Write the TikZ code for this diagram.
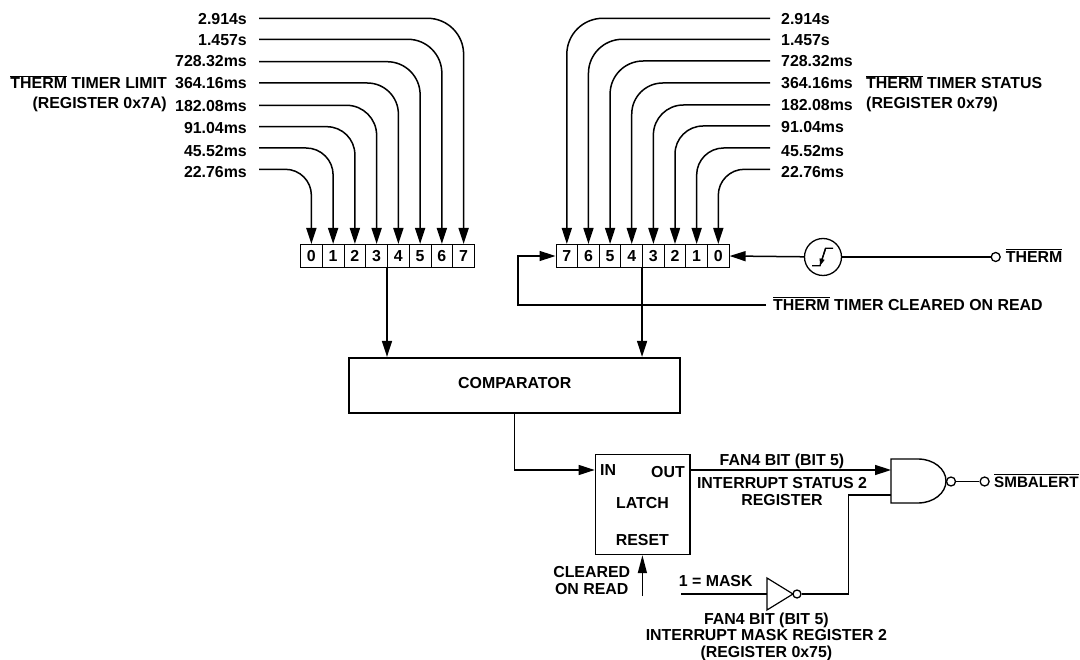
\documentclass[tikz,border=0pt]{standalone}
\usepackage{fontspec}
\setmainfont{Liberation Sans}
\usetikzlibrary{arrows.meta}
\newcommand\ovl[1]{\leavevmode\vbox{\hrule height 1pt\kern 1.3pt\hbox{#1}}}
\tikzset{
  x=1pt,y=-1pt,
  wire/.style={draw=black,line width=1.5pt},
  tip/.style={-{Triangle[length=16pt,width=10pt]}},
  arr/.style={wire,tip},
  bend/.style={arr,rounded corners=#1pt},
  txt/.style={font=\bfseries\fontsize{15.9}{16}\selectfont,inner sep=0pt,align=center,text=black},
  tx/.style={txt,text height=11.4pt,text depth=0pt},
  llab/.style={tx,anchor=east},
  rlab/.style={tx,anchor=west},
  cell/.style={draw=black,line width=1pt,tx,minimum height=23pt,anchor=west},
  lcell/.style={cell,minimum width=21.75pt},
  rcell/.style={cell,minimum width=21.64pt},
  box/.style={draw=black,line width=1.4pt,inner sep=0pt},
  bub/.style={circle,draw=black,line width=1.3pt,fill=white,inner sep=0pt,minimum size=#1pt},
}
\begin{document}
\begin{tikzpicture}
\useasboundingbox (0,0) rectangle (1080,660);
% labels: number/text/label y/line y
\foreach \n/\t/\y/\ly in {0/22.76ms/171.7/169.3,1/45.52ms/150.7/148,2/91.04ms/127.7/126.7,3/182.08ms/105.7/105.3,4/364.16ms/82.7/83,5/728.32ms/61/61.7,6/1.457s/40/39.3,7/2.914s/19/18.3}{
  \node[llab] (L\n) at (247,\y) {\t};
  \coordinate (LC\n) at (259,\ly);
}
\foreach \n/\t/\y/\ly in {0/22.76ms/171.7/169.3,1/45.52ms/150.7/148,2/91.04ms/127/126,3/182.08ms/105/105,4/364.16ms/82.7/83,5/728.32ms/61/61,6/1.457s/40/39.3,7/2.914s/19/18.3}{
  \node[rlab] (R\n) at (781,\y) {\t};
  \coordinate (RC\n) at (770,\ly);
}
% registers
\foreach \n in {0,...,7}
  \node[lcell] (A\n) at ({300+21.75*\n},256) {\n};
\foreach \n [evaluate=\n as \xx using {555.5+21.64*(7-\n)}] in {7,...,0}
  \node[rcell] (B\n) at (\xx,256) {\n};
% buses
\foreach \n/\r in {0/26,1/27,2/28,3/30,4/31,5/33,6/34,7/36}{
  \path[bend=\r] (LC\n) -| (A\n.north);
  \path[bend=\r] (RC\n) -| (B\n.north);
}
% titles
\node[txt,anchor=east,align=right] (tl) at (167,94) {\ovl{THERM} TIMER LIMIT\\[4pt](REGISTER 0x7A)};
\node[txt,anchor=west,align=left] (tr) at (866,94) {\ovl{THERM} TIMER STATUS\\[4pt](REGISTER 0x79)};
% comparator
\node[box,line width=2.2pt,minimum width=331pt,minimum height=55pt] (cmp) at (514.5,385.5) {};
\node[tx] (cmpt) at (514.7,383.3) {COMPARATOR};
\draw[arr] (A4.south west) -- (A4.south west |- cmp.north);
\draw[arr] (B3.south west) -- (B3.south west |- cmp.north);
% hysteresis and THERM input
\node[bub=37] (hy) at (823,257) {};
\coordinate (h1) at (812,265.7);
\coordinate (h2) at (820,265.7);
\coordinate (h3) at (825.6,248.3);
\coordinate (h4) at (833,248.3);
\draw[line width=1.3pt] (h1) -- (h2) -- (h3) -- (h4);
\draw[-{Triangle[length=7pt,width=5pt]},line width=1.3pt] (h3) -- (h2);
\node[bub=9] (thc) at (995.7,257) {};
\node[tx,anchor=west] (th) at (1005.7,257) {\ovl{THERM}};
\draw[wire] (thc) -- (hy);
\draw[arr] (hy) -- (B0.east);
% clear loop
\node[tx,anchor=west] (clr) at (773,305) {\ovl{THERM} TIMER CLEARED ON READ};
\coordinate (lp) at (517.8,305);
\coordinate (cl) at (766,305);
\draw[arr] (cl) -- (lp) -- (lp |- B7.west) -- (B7.west);
% latch
\node[box,minimum width=94.5pt,minimum height=100pt] (lat) at (642.6,504.5) {};
\node[tx,anchor=west] (lin) at (600,470) {IN};
\node[tx,anchor=east] (lout) at (685,471.7) {OUT};
\node[tx] (llt) at (642.4,502.7) {LATCH};
\node[tx] (lrs) at (642.4,539.3) {RESET};
\coordinate (kn) at (514.5,470);
\draw[wire,tip,line width=1.3pt] (kn |- cmp.south) -- (kn) -- (kn -| lat.west);
% NAND
\coordinate (ng1) at (891,470);
\coordinate (ng2) at (891,495);
\draw[line width=1.4pt,fill=white] (891,459) -- (918,459) arc[start angle=-90,end angle=90,x radius=28pt,y radius=-22pt] -- (891,503) -- cycle;
\node[bub=9] (nb) at (951,481.5) {};
\node[bub=9] (sc) at (984.6,481.5) {};
\node[tx,anchor=west,font=\bfseries\fontsize{15.2}{16}\selectfont] (smb) at (994,481.5) {\ovl{SMBALERT}};
\draw[wire,line width=1.2pt] (nb) -- (sc);
\draw[arr] (ng1 -| lat.east) -- (ng1);
\node[tx] (fb) at (782,460) {FAN4 BIT (BIT 5)};
\node[txt] (is) at (782,491.5) {INTERRUPT STATUS 2\\[1pt]REGISTER};
% inverter
\coordinate (t1) at (767,578);
\coordinate (t2) at (767,610);
\coordinate (t3) at (793,594);
\draw[line width=1.2pt] (t1) -- (t3) -- (t2) -- cycle;
\node[bub=8] (ib) at (797,594) {};
\coordinate (mk) at (681,594);
\coordinate (tw) at (767,594);
\coordinate (cn) at (848.5,594);
\draw[wire] (mk) -- (tw);
\draw[wire] (ib) -- (cn) -- (cn |- ng2) -- (ng2);
\node[tx] (m1) at (715.7,580.7) {1 = MASK};
\node[txt] (fb2) at (766.4,636.8) {FAN4 BIT (BIT 5)\\[0.5pt]INTERRUPT MASK REGISTER 2\\[0.5pt](REGISTER 0x75)};
% reset
\coordinate (ra) at (642.4,596);
\draw[wire,-{Triangle[length=18pt,width=9pt]}] (ra) -- (ra |- lat.south);
\node[txt] (cr) at (591.7,580.5) {CLEARED\\[1pt]ON READ};
\end{tikzpicture}
\end{document}
